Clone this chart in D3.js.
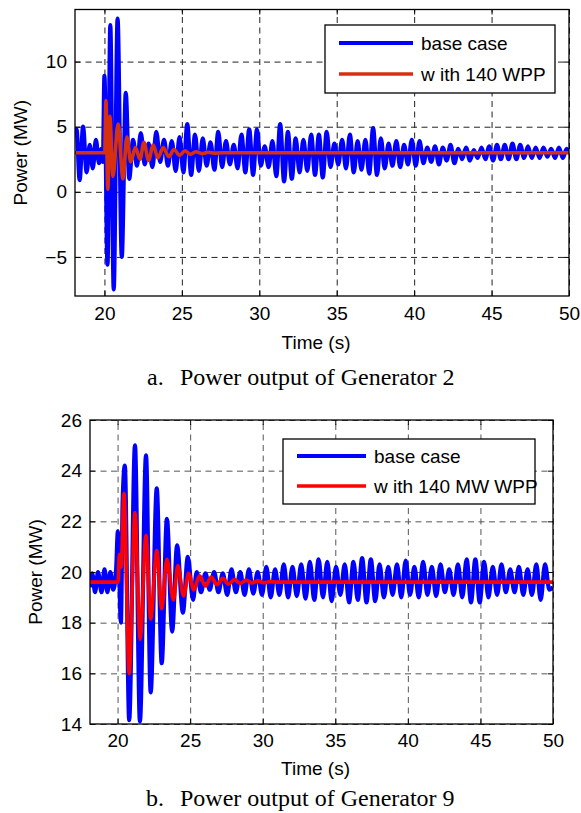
<!DOCTYPE html>
<html>
<head>
<meta charset="utf-8">
<script src="https://d3js.org/d3.v7.min.js"></script>
<style>
  body { margin: 0; background: #fff; }
  svg { display: block; }
  .tick text { font-family: "Liberation Sans", Arial, sans-serif; font-size: 19px; fill: #000; }
  .label { font-family: "Liberation Sans", Arial, sans-serif; font-size: 19px; fill: #000; }
  .caption { font-family: "Liberation Serif", "Times New Roman", serif; font-size: 24px; fill: #000; }
</style>
</head>
<body>
<div id="chart"></div>
<script>
// tick values
const timeTicks = [20, 25, 30, 35, 40, 45, 50];
const powerTicksA = [-5, 0, 5, 10];
const powerTicksB = [14, 16, 18, 20, 22, 24, 26];

const baseCaseA = [
  [18.1, 4.3], [18.2, 4.8], [18.4, 0.9], [18.62, 5.0], [18.85, 1.5], [19.05, 3.6], [19.25, 1.8],
  [19.45, 4.0], [19.65, 2.2], [19.8, 3.3], [19.9, 2.3], [20.0, 8.9], [20.2, -5.6], [20.38, 12.8],
  [20.6, -7.5], [20.85, 13.3], [21.12, -5.0], [21.38, 7.6], [21.6, 1.0],
  [21.85, 4.0], [22.1, 2.0], [22.35, 4.5], [22.6, 2.1], [22.85, 3.7], [23.1, 1.9], [23.35, 4.6],
  [23.6, 2.3], [23.85, 4.0], [24.1, 2.0], [24.35, 3.9], [24.6, 1.6], [24.85, 4.2], [25.1, 1.5],
  [25.35, 5.2], [25.6, 1.3], [25.85, 4.4], [26.1, 1.6], [26.35, 4.1], [26.6, 2.0], [26.85, 3.8],
  [27.1, 1.7], [27.35, 4.6], [27.6, 1.9], [27.85, 3.9], [28.1, 2.1], [28.35, 3.6], [28.6, 1.8],
  [28.85, 4.4], [29.1, 1.5], [29.35, 4.8], [29.6, 1.3], [29.85, 4.8], [30.1, 2.0], [30.35, 3.5],
  [30.6, 1.9], [30.85, 3.9], [31.1, 1.2], [31.35, 5.2], [31.6, 0.8], [31.85, 4.6], [32.1, 1.0],
  [32.35, 4.1], [32.6, 1.5], [32.85, 4.0], [33.1, 1.6], [33.35, 4.4], [33.6, 1.3], [33.85, 4.4],
  [34.1, 1.1], [34.35, 4.6], [34.6, 1.9], [34.85, 3.7], [35.1, 2.1], [35.35, 4.0], [35.6, 1.8],
  [35.85, 4.4], [36.1, 1.5], [36.35, 3.9], [36.6, 1.7], [36.85, 4.0], [37.1, 1.4], [37.35, 4.9],
  [37.6, 1.3], [37.85, 4.1], [38.1, 1.8], [38.35, 3.7], [38.6, 2.0], [38.85, 3.9], [39.1, 1.9],
  [39.35, 3.6], [39.6, 2.1], [39.85, 4.0], [40.1, 2.0], [40.35, 3.9], [40.6, 2.2], [40.85, 3.4],
  [41.1, 2.3], [41.35, 3.5], [41.6, 2.1], [41.85, 3.4], [42.1, 2.4], [42.35, 3.6], [42.6, 2.2],
  [42.85, 3.3], [43.1, 2.5], [43.35, 3.4], [43.6, 2.4], [43.85, 3.2], [44.1, 2.6], [44.35, 3.4],
  [44.6, 2.5], [44.85, 3.5], [45.1, 2.4], [45.35, 3.6], [45.6, 2.5], [45.85, 3.6], [46.1, 2.5],
  [46.35, 3.7], [46.6, 2.5], [46.85, 3.6], [47.1, 2.6], [47.35, 3.5], [47.6, 2.6], [47.85, 3.4],
  [48.1, 2.6], [48.35, 3.4], [48.6, 2.7], [48.85, 3.3], [49.1, 2.6], [49.35, 3.4], [49.6, 2.6],
  [49.85, 3.3], [50.0, 3.0]
];

// Generator 2, with 140 WPP
const wppA = [
  [18.1, 3.0], [20.02, 3.0], [20.1, 7.0], [20.22, 0.2], [20.35, 5.8], [20.55, 1.2], [20.88, 5.2],
  [21.2, 1.0], [21.45, 4.2], [21.7, 2.3], [22.0, 3.4], [22.3, 2.5], [22.55, 3.8], [22.85, 2.4],
  [23.15, 3.6], [23.45, 2.6], [23.8, 3.4], [24.15, 2.7], [24.5, 3.25], [24.85, 2.8], [25.2, 3.15],
  [25.55, 2.88], [25.9, 3.08], [26.3, 2.93], [26.7, 3.04], [27.1, 2.97], [27.5, 3.0], [50.0, 3.0]
];

// Generator 9, base case
const baseCaseB = [
  [18.1, 19.4], [18.25, 19.95], [18.45, 19.2], [18.65, 20.0], [18.9, 19.2], [19.1, 20.1],
  [19.3, 19.2], [19.5, 20.0], [19.7, 19.3], [19.9, 20.1], [20.02, 21.6], [20.23, 18.0],
  [20.35, 22.8], [20.5, 24.2], [20.8, 14.15], [21.2, 25.0], [21.54, 14.1], [21.96, 24.6],
  [22.28, 15.25], [22.7, 23.3], [23.04, 16.4], [23.4, 22.1], [23.76, 17.65], [24.1, 21.05],
  [24.5, 18.4], [24.84, 20.6], [25.2, 18.9],
  [25.45, 20.0], [25.75, 19.2], [26.05, 19.95], [26.35, 19.3], [26.65, 20.0], [26.95, 19.2],
  [27.25, 19.95], [27.55, 19.1], [27.85, 20.1], [28.15, 19.2], [28.45, 20.0], [28.75, 19.1],
  [29.05, 20.1], [29.35, 19.15], [29.65, 20.0], [29.95, 19.1], [30.25, 20.2], [30.55, 19.0],
  [30.85, 20.1], [31.15, 19.1], [31.45, 20.3], [31.75, 19.0], [32.05, 20.2], [32.35, 19.05],
  [32.65, 20.3], [32.95, 18.95], [33.25, 20.4], [33.55, 18.9], [33.85, 20.5], [34.15, 19.0],
  [34.45, 20.4], [34.75, 18.85], [35.05, 20.2], [35.35, 19.1], [35.65, 20.3], [35.95, 18.8],
  [36.25, 20.4], [36.55, 18.9], [36.85, 20.55], [37.15, 18.8], [37.45, 20.5], [37.75, 18.85],
  [38.05, 20.3], [38.35, 19.0], [38.65, 20.2], [38.95, 19.1], [39.25, 20.3], [39.55, 19.0],
  [39.85, 20.45], [40.15, 19.1], [40.45, 20.2], [40.75, 19.0], [41.05, 20.4], [41.35, 19.1],
  [41.65, 20.2], [41.95, 19.05], [42.25, 20.3], [42.55, 19.2], [42.85, 20.1], [43.15, 19.1],
  [43.45, 20.3], [43.75, 19.0], [44.05, 20.5], [44.35, 18.8], [44.65, 20.5], [44.95, 18.8],
  [45.25, 20.4], [45.55, 19.0], [45.85, 20.2], [46.15, 19.1], [46.45, 20.3], [46.75, 19.2],
  [47.05, 20.1], [47.35, 19.2], [47.65, 20.2], [47.95, 19.1], [48.25, 20.1], [48.55, 19.1],
  [48.85, 20.3], [49.15, 18.9], [49.45, 20.3], [49.75, 19.3], [50.0, 19.4]
];

// Generator 9, with 140 MW WPP
const wppB = [
  [18.1, 19.6], [20.04, 19.6], [20.12, 20.7], [20.25, 20.2], [20.44, 23.1], [20.8, 16.0],
  [21.2, 22.35], [21.55, 17.35], [21.96, 21.45], [22.28, 18.15], [22.7, 20.85], [23.04, 18.55],
  [23.4, 20.5], [23.85, 18.9], [24.15, 20.25], [24.55, 19.05], [24.9, 19.95], [25.25, 19.3],
  [25.65, 19.85], [26.05, 19.45], [26.45, 19.8], [26.85, 19.5], [27.25, 19.75], [27.65, 19.52],
  [28.05, 19.7], [28.45, 19.55], [28.85, 19.68], [29.25, 19.57], [29.65, 19.65], [30.05, 19.58],
  [30.5, 19.62], [31.0, 19.6], [50.0, 19.6]
];

const legendA = ["base case", "w ith 140 WPP"];
const legendB = ["base case", "w ith 140 MW WPP"];
const timeDomain = [18.1, 50];
const powerDomainA = [-8, 14];
const powerDomainB = [14, 26];

const svg = d3.select("#chart").append("svg")
    .attr("width", 581)
    .attr("height", 813);

function drawPanel(p) {
    const w = p.right - p.left;
    const h = p.bottom - p.top;
    const g = svg.append("g").attr("transform", "translate(" + p.left + "," + p.top + ")");

    const x = d3.scaleLinear().domain(timeDomain).range([0, w]);
    const y = d3.scaleLinear().domain(p.yDomain).range([h, 0]);

    // dashed grid
    g.append("g")
        .attr("transform", "translate(0," + h + ")")
        .call(d3.axisBottom(x).tickValues(timeTicks).tickSize(-h).tickFormat(""))
        .call(s => s.select(".domain").remove())
        .selectAll("line")
        .attr("stroke", p.gridColor)
        .attr("stroke-dasharray", "6,4.5");
    g.append("g")
        .call(d3.axisLeft(y).tickValues(p.yTicks).tickSize(-w).tickFormat(""))
        .call(s => s.select(".domain").remove())
        .selectAll("line")
        .attr("stroke", p.gridColor)
        .attr("stroke-dasharray", "6,4.5");

    // lines
    const clipId = "clip-" + p.id;
    g.append("clipPath").attr("id", clipId)
      .append("rect").attr("width", w).attr("height", h);

    const line = d3.line()
        .x(d => x(d[0]))
        .y(d => y(d[1]))
        .curve(d3.curveMonotoneX);

    const lines = g.append("g").attr("clip-path", "url(#" + clipId + ")");
    lines.append("path")
        .datum(p.base)
        .attr("fill", "none")
        .attr("stroke", "#0000ff")
        .attr("stroke-width", 4.2)
        .attr("stroke-linejoin", "round")
        .attr("d", line);
    lines.append("path")
        .datum(p.wpp)
        .attr("fill", "none")
        .attr("stroke", p.wppColor)
        .attr("stroke-width", 3.6)
        .attr("stroke-linejoin", "round")
        .attr("d", line);

    // inner ticks on all four sides
    const tickLen = 5;
    [d3.axisBottom(x).tickValues(timeTicks).tickSize(-tickLen), d3.axisTop(x).tickValues(timeTicks).tickSize(-tickLen)]
        .forEach((ax, i) => {
            g.append("g")
                .attr("transform", "translate(0," + (i === 0 ? h : 0) + ")")
                .call(ax.tickFormat(""))
                .call(s => s.select(".domain").remove())
                .selectAll("line").attr("stroke", "#000");
        });
    [d3.axisLeft(y).tickValues(p.yTicks).tickSize(-tickLen), d3.axisRight(y).tickValues(p.yTicks).tickSize(-tickLen)]
        .forEach((ax, i) => {
            g.append("g")
                .attr("transform", "translate(" + (i === 0 ? 0 : w) + ",0)")
                .call(ax.tickFormat(""))
                .call(s => s.select(".domain").remove())
                .selectAll("line").attr("stroke", "#000");
        });

    // tick labels
    g.append("g")
        .attr("transform", "translate(0," + h + ")")
        .call(d3.axisBottom(x).tickValues(timeTicks).tickSize(0).tickPadding(p.xPad))
        .call(s => s.select(".domain").remove())
        .selectAll("text").attr("font-size", null).attr("font-family", null);
    g.append("g")
        .call(d3.axisLeft(y).tickValues(p.yTicks).tickSize(0).tickPadding(8))
        .call(s => s.select(".domain").remove())
        .selectAll("text").attr("font-size", null).attr("font-family", null);

    // frame
    g.append("rect")
        .attr("width", w)
        .attr("height", h)
        .attr("fill", "none")
        .attr("stroke", "#000")
        .attr("stroke-width", 1.3);

    // axis titles
    g.append("text")
        .attr("class", "label")
        .attr("x", w / 2 - 6)
        .attr("y", h + p.xTitleOffset)
        .attr("text-anchor", "middle")
        .text("Time (s)");
    g.append("text")
        .attr("class", "label")
        .attr("transform", "rotate(-90)")
        .attr("x", -h / 2)
        .attr("y", p.yTitleX - p.left)
        .attr("text-anchor", "middle")
        .text("Power (MW)");

    // legend
    const lg = g.append("g").attr("transform", "translate(" + (p.legend.x - p.left) + "," + (p.legend.y - p.top) + ")");
    lg.append("rect")
        .attr("width", p.legend.w)
        .attr("height", p.legend.h)
        .attr("fill", "#fff")
        .attr("stroke", "#000")
        .attr("stroke-width", 1.3);
    const colors = ["#0000ff", p.wppColor];
    p.legendLabels.forEach((label, i) => {
        const cy = p.legend.row0 + i * p.legend.rowGap;
        lg.append("line")
            .attr("x1", p.legend.lineX0)
            .attr("x2", p.legend.lineX1)
            .attr("y1", cy)
            .attr("y2", cy)
            .attr("stroke", colors[i])
            .attr("stroke-width", i === 0 ? 4.2 : 3.6);
        lg.append("text")
            .attr("class", "label")
            .attr("x", p.legend.textX)
            .attr("y", cy + 7)
            .text(label);
    });

    // caption
    const cap = svg.append("text")
        .attr("class", "caption")
        .attr("y", p.captionY);
    cap.append("tspan").attr("x", p.captionX).text(p.captionLetter);
    cap.append("tspan").attr("x", 180).text(p.captionText);
}

drawPanel({
    id: "a", left: 75, right: 569, top: 9.5, bottom: 296,
    yDomain: powerDomainA, yTicks: powerTicksA,
    base: baseCaseA, wpp: wppA, wppColor: "#d8300f", gridColor: "#222",
    xPad: 11, xTitleOffset: 53, yTitleX: 27,
    legend: { x: 325, y: 25, w: 230, h: 68, row0: 18, rowGap: 31, lineX0: 14, lineX1: 88, textX: 96 },
    legendLabels: legendA,
    captionX: 147, captionY: 385, captionLetter: "a.", captionText: "Power output of Generator 2"
});

drawPanel({
    id: "b", left: 90, right: 553, top: 420, bottom: 724,
    yDomain: powerDomainB, yTicks: powerTicksB,
    base: baseCaseB, wpp: wppB, wppColor: "#ff0000", gridColor: "#555",
    xPad: 9.5, xTitleOffset: 51, yTitleX: 42,
    legend: { x: 283, y: 439, w: 252, h: 65, row0: 17, rowGap: 30, lineX0: 14, lineX1: 83, textX: 91 },
    legendLabels: legendB,
    captionX: 146, captionY: 806, captionLetter: "b.", captionText: "Power output of Generator 9"
});
</script>
</body>
</html>
